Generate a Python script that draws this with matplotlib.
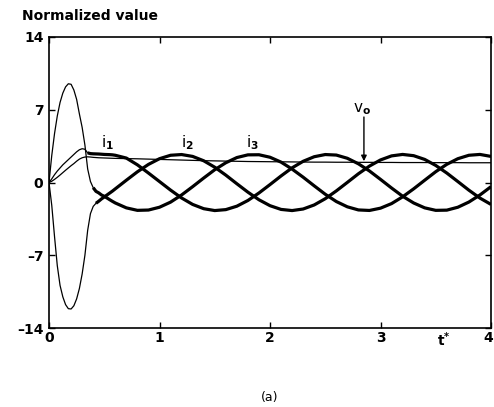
import numpy as np
import matplotlib
matplotlib.use("Agg")
import matplotlib.pyplot as plt
from matplotlib.transforms import ScaledTranslation

plt.rcParams["font.family"] = ["DejaVu Sans"]
plt.rcParams["mathtext.default"] = "bf"

# Normalized time t*: fine sampling through the start-up transient, then coarser
t = np.round(np.concatenate([np.arange(0, 0.6001, 0.025),
                             np.arange(0.7, 4.0001, 0.1)]), 3)

# Phase currents i1, i2, i3 (normalized)
i1 = [0, 0.35, 0.75, 1.1, 1.4, 1.7, 1.95, 2.2, 2.45, 2.7, 2.95, 3.15, 3.25, 3.2,
      2.85, 2.78, 2.76, 2.75, 2.74, 2.72, 2.7, 2.69, 2.68, 2.66, 2.62,
      2.35, 1.7, 0.91, 0.09, -0.73, -1.49, -2.11, -2.52, -2.70, -2.61, -2.28,
      -1.73, -1.01, -0.20, 0.63, 1.41, 2.04, 2.48, 2.69, 2.64, 2.33, 1.80, 1.11,
      0.30, -0.53, -1.32, -1.97, -2.44, -2.68, -2.66, -2.38, -1.88, -1.20, -0.40]

i2 = [0, -2.2, -5.2, -8.0, -9.9, -11.0, -11.75, -12.14, -12.17, -11.86, -11.2,
      -10.2, -8.8, -7.0, -4.6, -3.0, -2.3, -2.0, -1.8, -1.58, -1.39, -1.20,
      -1.01, -0.82, -0.61,
      0.22, 1.03, 1.74, 2.29, 2.62, 2.69, 2.51, 2.09, 1.47, 0.71, -0.12, -0.93,
      -1.66, -2.23, -2.59, -2.70, -2.55, -2.16, -1.56, -0.81, 0.01, 0.84, 1.58,
      2.17, 2.56, 2.70, 2.58, 2.22, 1.64, 0.91, 0.09, -0.74, -1.50, -2.11]

i3 = [0, 2.6, 4.7, 6.4, 7.7, 8.6, 9.2, 9.5, 9.45, 8.9, 8.0, 6.6, 5.3, 3.6, 1.3,
      0.1, -0.5, -0.85, -1.0, -1.2, -1.33, -1.49, -1.66, -1.82, -1.97,
      -2.44, -2.68, -2.65, -2.38, -1.89, -1.20, -0.40, 0.43, 1.23, 1.90, 2.40,
      2.66, 2.67, 2.43, 1.96, 1.29, 0.51, -0.32, -1.13, -1.83, -2.34, -2.64,
      -2.69, -2.47, -2.03, -1.38, -0.61, 0.22, 1.04, 1.75, 2.29, 2.62, 2.70, 2.51]

# Output voltage vo
vo = [0, 0.12, 0.3, 0.5, 0.72, 0.95, 1.18, 1.4, 1.62, 1.82, 2.05, 2.25, 2.38,
      2.45, 2.47, 2.45, 2.42, 2.4, 2.38, 2.37, 2.36, 2.35, 2.34, 2.33, 2.32,
      2.3, 2.28, 2.25, 2.22, 2.19, 2.16, 2.13, 2.1, 2.08, 2.06, 2.04, 2.02, 2.01,
      2.0, 1.99, 1.98, 1.97, 1.96, 1.96, 1.95, 1.95, 1.94, 1.94, 1.93, 1.93,
      1.92, 1.92, 1.92, 1.91, 1.91, 1.91, 1.9, 1.9, 1.9]

x_ticks = [0, 1, 2, 3, 4]
y_ticks = [-14, -7, 0, 7, 14]
y_tick_labels = ["\u201314", "\u20137", "0", "7", "14"]

fig = plt.figure(figsize=(4.94, 4.07), dpi=100)
ax = fig.add_axes([49 / 494, 79 / 407, 442 / 494, 291 / 407])

# thin trace during start-up, heavy (ripple band) trace once settled
settle = {"i1": 0.35, "i2": 0.425, "i3": 0.4}
for name, cur in (("i1", i1), ("i2", i2), ("i3", i3)):
    cur = np.asarray(cur)
    k = int(np.searchsorted(t, settle[name]))
    ax.plot(t[:k + 1], cur[:k + 1], color="k", lw=0.9)
    ax.plot(t[k:], cur[k:], color="k", lw=2.3, solid_capstyle="butt")
ax.plot(t, vo, color="k", lw=0.9)

ax.set_xlim(0, 4)
ax.set_ylim(-14, 14)
ax.set_xticks(x_ticks)
ax.set_xticklabels([str(v) for v in x_ticks], fontweight="bold", fontsize=10)
ax.set_yticks(y_ticks)
ax.set_yticklabels(y_tick_labels, fontweight="bold", fontsize=10)
ax.tick_params(axis="both", direction="in", length=4, width=1.0,
               top=True, right=True)
ax.tick_params(axis="x", pad=2)
ax.tick_params(axis="y", pad=4)
for sp in ax.spines.values():
    sp.set_linewidth(1.2)

# keep the last x label inside the canvas
last = ax.get_xticklabels()[-1]
last.set_transform(last.get_transform() +
                   ScaledTranslation(-3 / 100, 0, fig.dpi_scale_trans))

# Curve labels
ax.text(0.53, 3.85, r"i$_1$", ha="center", va="center", fontsize=11)
ax.text(1.25, 3.85, r"i$_2$", ha="center", va="center", fontsize=11)
ax.text(1.84, 3.85, r"i$_3$", ha="center", va="center", fontsize=11)
ax.text(2.83, 7.1, r"v$_o$", ha="center", va="center", fontsize=11)
ax.annotate("", xy=(2.85, 2.05), xytext=(2.85, 6.3),
            arrowprops=dict(arrowstyle="-|>", color="k", lw=1.0,
                            mutation_scale=8, shrinkA=0, shrinkB=0))

# Time axis symbol
ax.annotate(r"t$^{*}$", xy=(3.57, 0), xycoords=("data", "axes fraction"),
            xytext=(0, -2), textcoords="offset points",
            ha="center", va="top", fontsize=10, fontweight="bold")

fig.text(22 / 494, 1 - 20 / 407, "Normalized value", fontsize=10,
         fontweight="bold", ha="left", va="baseline")
fig.text(270 / 494, 1 - 397 / 407, "(a)", ha="center", va="center", fontsize=9)

fig.savefig("out.png", dpi=100)
